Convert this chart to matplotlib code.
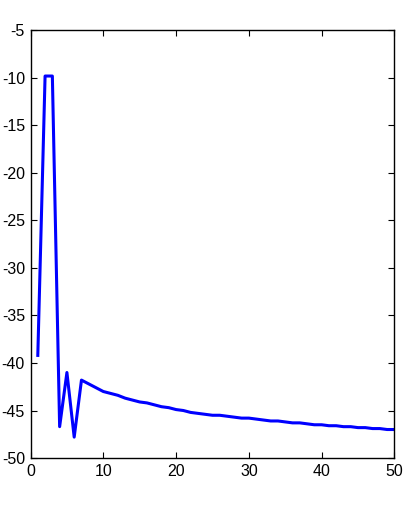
import matplotlib
matplotlib.use('Agg')
import matplotlib.pyplot as plt
import numpy as np

plt.rcParams['font.family'] = ['Liberation Sans', 'DejaVu Sans']
plt.rcParams['axes.unicode_minus'] = False

# curve values
x = np.arange(1, 51)
y = [-39.2, -9.8, -9.8, -46.7, -41.0, -47.8, -41.8, -42.2, -42.6, -43.0,
     -43.2, -43.4, -43.7, -43.9, -44.1, -44.2, -44.4, -44.6, -44.7, -44.9,
     -45.0, -45.2, -45.3, -45.4, -45.5, -45.5, -45.6, -45.7, -45.8, -45.8,
     -45.9, -46.0, -46.1, -46.1, -46.2, -46.3, -46.3, -46.4, -46.5, -46.5,
     -46.6, -46.6, -46.7, -46.7, -46.8, -46.8, -46.9, -46.9, -47.0, -47.0]

xticks = [0, 10, 20, 30, 40, 50]
yticks = list(range(-50, -4, 5))

fig = plt.figure(figsize=(4.07, 5.07), dpi=100)
ax = fig.add_axes([0.075, 0.0966, 0.894, 0.8434])

ax.plot(x, y, color='#0000ff', linewidth=2.2)

ax.set_xlim(0, 50)
ax.set_ylim(-50, -5)
ax.set_xticks(xticks)
ax.set_yticks(yticks)
ax.tick_params(direction='in', top=True, right=True, labelsize=11.5,
               length=4, width=0.8, pad=4)
for s in ax.spines.values():
    s.set_linewidth(1.0)

fig.savefig('out.png', dpi=100)
